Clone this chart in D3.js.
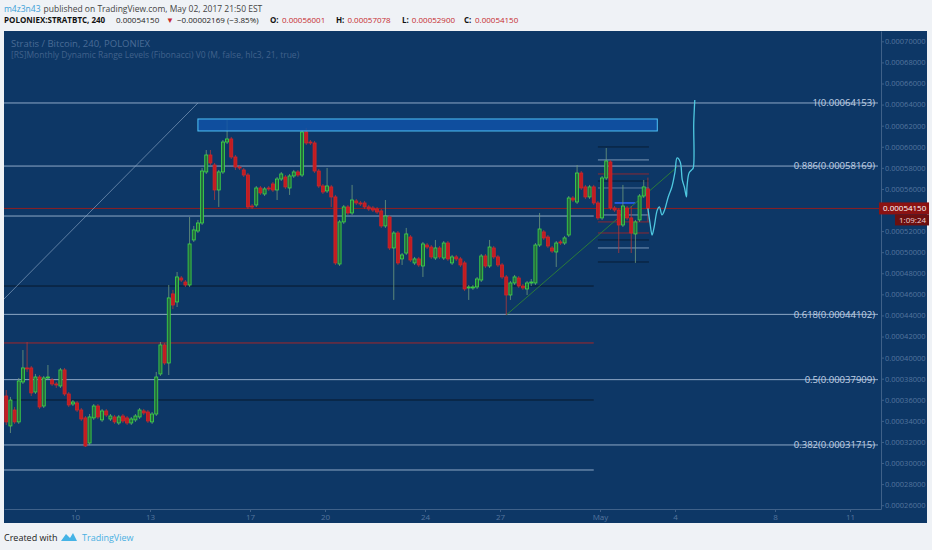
<!DOCTYPE html>
<html>
<head>
<meta charset="utf-8">
<script src="https://cdn.jsdelivr.net/npm/d3@7"></script>
<style>
  body { margin: 0; background: #eff2f6; }
  svg text { font-family: "Open Sans", sans-serif; }
</style>
</head>
<body>
<svg id="chart"></svg>
<script>
// STRATBTC 240 candles, Apr 7 04:00 -> May 2 20:00 (prices in satoshi)
const barStart = new Date(2017, 3, 7, 4);
const barHours = 4;

const opens = [
  36360, 33520, 35030, 33900, 37690, 39020, 39020, 36740, 38160, 35410,
  38070, 37880, 37500, 37310, 38830, 36550, 35600, 35700, 35030, 34280,
  31900, 34280, 35410, 34090, 34940, 34180, 34370, 33800, 34460, 34280,
  33800, 34090, 34370, 34940, 34840, 33900, 34650, 38450, 41200, 39490,
  46040, 45280, 47550, 47170, 46890, 51160, 52010, 52770, 57610, 59220,
  58270, 55900, 57610, 60450, 60740, 59030, 58080, 57800, 57320, 54380,
  54480, 56090, 55520, 56090, 56470, 55900, 56940, 57130, 56090, 57230,
  57610, 57320, 61400, 60450, 60360, 57700, 56280, 55810, 56190, 55240,
  48880, 52870, 54290, 53720, 54860, 54670, 54670, 54290, 54190, 54100,
  53910, 52490, 53340, 50400, 51820, 49360, 49920, 51440, 48980, 49360,
  48690, 50680, 50490, 49450, 50400, 49450, 50870, 48980, 49550, 49360,
  48980, 46610, 46610, 46700, 47360, 49640, 48690, 50400, 49550, 48790,
  47650, 45940, 47080, 47550, 46790, 46510, 47080, 47080, 50680, 51920,
  51440, 50400, 50020, 50970, 50870, 51630, 55140, 54760, 57510, 56190,
  55240, 56190, 54670, 53250, 57040, 58560, 54190, 54000, 52580, 54190,
  53250, 51730, 53060, 55330, 56001
];
const highs = [
  36930, 36270, 35320, 38070, 40720, 41480, 39210, 38450, 38350, 38260,
  39300, 38070, 37690, 39020, 39020, 36740, 35980, 35890, 35220, 34460,
  34650, 35600, 35600, 35130, 35130, 34650, 34560, 34560, 34650, 34460,
  34370, 34650, 35220, 35130, 35030, 34840, 38640, 41480, 41390, 46890,
  46420, 48120, 47740, 47360, 53340, 52490, 53060, 57990, 59690, 59690,
  58460, 57800, 60640, 62540, 60930, 59220, 58270, 57990, 57510, 54570,
  56280, 56280, 56190, 56280, 56660, 57130, 57610, 57320, 57420, 57800,
  57800, 61590, 61780, 60640, 60550, 57890, 56470, 57990, 56380, 55430,
  53060, 54480, 54480, 56380, 55050, 54860, 54860, 54480, 54380, 54290,
  54100, 54950, 53530, 52010, 52010, 49920, 52300, 51630, 49550, 49550,
  50970, 50870, 50680, 51160, 50590, 51060, 51060, 49740, 49740, 49550,
  49170, 46890, 46890, 47650, 49830, 49830, 51160, 50590, 49740, 48980,
  47840, 47270, 47840, 47740, 46990, 47270, 47460, 50870, 53720, 52110,
  51630, 50590, 51060, 51160, 51540, 55330, 55330, 58270, 57700, 56380,
  56380, 56380, 54860, 57230, 59880, 58750, 54380, 54190, 56380, 54380,
  54380, 53060, 55520, 56850, 57078
];
const lows = [
  33610, 32850, 33710, 33710, 37500, 38640, 36360, 36550, 35130, 35220,
  37880, 37310, 37120, 37120, 36360, 35320, 35410, 34840, 33990, 31520,
  31710, 34090, 34180, 33900, 34370, 33990, 33710, 33610, 33800, 33610,
  33610, 33900, 34180, 34560, 33800, 33710, 34460, 38260, 39300, 38350,
  44610, 44800, 47170, 46700, 46700, 50970, 51820, 52580, 57420, 58270,
  54950, 54290, 57420, 60260, 58840, 57800, 57800, 57130, 54100, 54100,
  54290, 55430, 55330, 55810, 55710, 54950, 56750, 56000, 55430, 57040,
  57130, 57130, 60170, 60170, 57510, 56090, 55520, 55620, 54290, 48790,
  48690, 52680, 53530, 53530, 54480, 54380, 54100, 53910, 53810, 53620,
  52300, 52300, 50210, 45470, 48790, 48790, 49740, 49070, 48790, 48600,
  47650, 50300, 49360, 49260, 49360, 49260, 49170, 48790, 49170, 48600,
  46320, 45470, 46420, 46510, 47170, 48500, 48500, 49360, 48600, 47460,
  44040, 45470, 46890, 46610, 46420, 45940, 46790, 46890, 50490, 51160,
  50400, 49920, 48600, 50680, 50680, 51440, 54760, 54570, 55900, 55050,
  55050, 54480, 53060, 53060, 56850, 54000, 53810, 49920, 52390, 53060,
  49920, 48980, 52870, 55140, 52900
];
const closes = [
  33900, 35980, 33900, 37780, 39020, 38920, 36650, 38160, 35320, 38070,
  38160, 37500, 37400, 38830, 36550, 35510, 35790, 35030, 34180, 31620,
  34370, 35410, 34370, 34940, 34560, 34460, 33900, 34370, 33990, 33800,
  34180, 34460, 35030, 34750, 33990, 34650, 38160, 41200, 39490, 45660,
  44990, 47650, 47360, 46890, 50780, 52110, 52770, 57700, 59220, 58460,
  55900, 57610, 60450, 60740, 59030, 58080, 57990, 57320, 54290, 54290,
  56090, 55620, 56000, 56000, 55900, 56940, 57420, 56190, 57230, 57610,
  57320, 61400, 60360, 60360, 57700, 56280, 55710, 56280, 55240, 48980,
  52870, 54290, 53720, 54950, 54670, 54570, 54290, 54100, 54000, 53810,
  52490, 53430, 50400, 51820, 48980, 49740, 51730, 49260, 49360, 48790,
  50780, 50490, 49550, 50400, 49550, 50870, 49360, 49550, 49360, 48790,
  46510, 46700, 46700, 47460, 49640, 48690, 50490, 49550, 48790, 47650,
  45940, 47080, 47650, 46790, 46610, 47080, 47170, 50680, 52200, 51350,
  50590, 50110, 50870, 50870, 51350, 55140, 54950, 57510, 56090, 55240,
  56190, 54670, 53250, 57040, 58650, 54190, 54000, 52580, 54380, 53250,
  51820, 52870, 55330, 56190, 54150
];

// Fibonacci levels of the monthly range (full width)
const fibLevels = [1, 0.886, 0.618, 0.5, 0.382];
const fibPrices = [64153, 58169, 44102, 37909, 31715];

// April range levels (end at month change) and May range levels
const aprilPrices = [53430, 46790, 41390, 35980, 29340];
const aprilKinds = ['light', 'dark', 'red', 'dark', 'light'];
const mayPrices = [59980, 58750, 57420, 56750, 56090, 53530, 52870, 51820, 51160, 50400, 49070];
const mayKinds = ['dark', 'light', 'red', 'dark', 'grey', 'light', 'red', 'red', 'dark', 'light', 'dark'];
const mayMidPrice = 54670;

// drawings
const zonePrices = [62635, 61497];
const zoneTimes = [new Date(2017, 3, 14, 22), new Date(2017, 4, 3, 7)];
const leftTrendTimes = [new Date(2017, 3, 7, 3, 50), new Date(2017, 3, 14, 22)];
const leftTrendPrices = [45560, 64153];
const greenTrendTimes = [new Date(2017, 3, 27, 6), new Date(2017, 4, 4, 2)];
const greenTrendPrices = [44040, 58080];
// projection sketch: hours after last bar, price
const projHours = [0, 2, 4, 6, 9, 11, 13.5, 16, 19.5, 23, 26, 28, 31, 33, 35, 37, 37.5, 39.5, 42, 43.5, 44, 45];
const projPrices = [54150, 52770, 51630, 52390, 54000, 54290, 53530, 54000, 55240, 56180, 57610, 58940,
  58560, 56850, 56180, 55240, 56180, 57510, 57800, 57990, 62250, 64440];

const tickDates = [new Date(2017, 3, 10), new Date(2017, 3, 13), new Date(2017, 3, 17), new Date(2017, 3, 20),
  new Date(2017, 3, 24), new Date(2017, 3, 27), new Date(2017, 4, 1), new Date(2017, 4, 4),
  new Date(2017, 4, 8), new Date(2017, 4, 11)];
const tickLabels = ['10', '13', '17', '20', '24', '27', 'May', '4', '8', '11'];
const priceTicks = [26000, 28000, 30000, 32000, 34000, 36000, 38000, 40000, 42000, 44000, 46000, 48000,
  50000, 52000, 54000, 56000, 58000, 60000, 62000, 64000, 66000, 68000, 70000];

const W = 932, H = 550;
const plotL = 4, plotR = 881, plotT = 31, plotB = 509;
const fmt = v => (v / 1e8).toFixed(8);
const HOUR = 3600 * 1000;

const svg = d3.select('#chart').attr('width', W).attr('height', H);

const x = d3.scaleTime()
  .domain([new Date(2017, 3, 7, 3, 50), new Date(2017, 4, 12, 5, 46)])
  .range([plotL, plotR]);
const y = d3.scaleLinear().domain([25640, 70980]).range([plotB, plotT]);

const colors = { light: '#8ea8c6', grey: '#6a86a8', dark: '#08192d', red: '#a3262a' };

// header, laid out left to right so that no two pieces touch
function headerLine(yPos, size, pieces) {
  let end = 0;
  pieces.forEach(s => {
    const t = svg.append('text').attr('y', yPos).attr('font-size', size).attr('fill', s.c)
      .attr('font-weight', s.bold ? 'bold' : null).text(s.t);
    const x0 = Math.max(s.x, end + 3);
    t.attr('x', x0);
    end = x0 + t.node().getComputedTextLength();
  });
}
const red = '#c62a2f';
headerLine(12, 8.5, [
  { x: 4, t: 'm4z3n43', c: '#3aa0d8' },
  { x: 0, t: 'published on TradingView.com, May 02, 2017 21:50 EST', c: '#444' }
]);
headerLine(23, 8, [
  { x: 4, t: 'POLONIEX:STRATBTC, 240', bold: true, c: '#111' },
  { x: 116, t: '0.00054150', c: '#222' },
  { x: 166, t: '\u25BC', c: red },
  { x: 177, t: '\u22120.00002169 (\u22123.85%)', c: '#222' },
  { x: 270, t: 'O:', bold: true, c: '#111' },
  { x: 282, t: '0.00056001', c: red },
  { x: 336, t: 'H:', bold: true, c: '#111' },
  { x: 347, t: '0.00057078', c: red },
  { x: 402, t: 'L:', bold: true, c: '#111' },
  { x: 410, t: '0.00052900', c: red },
  { x: 464, t: 'C:', bold: true, c: '#111' },
  { x: 475, t: '0.00054150', c: red }
]);

// chart panel
svg.append('rect').attr('x', plotL).attr('y', plotT).attr('width', 927 - plotL).attr('height', 523 - plotT)
  .attr('fill', '#0d3766');

svg.append('defs').append('clipPath').attr('id', 'plot')
  .append('rect').attr('x', plotL).attr('y', plotT).attr('width', plotR - plotL).attr('height', plotB - plotT);
const plot = svg.append('g').attr('clip-path', 'url(#plot)');

// legend
svg.append('text').attr('x', 11).attr('y', 47).attr('font-size', 9.5).attr('fill', '#4a6c96')
  .text('Stratis / Bitcoin, 240, POLONIEX');
svg.append('text').attr('x', 11).attr('y', 58).attr('font-size', 8.5).attr('fill', '#41628c')
  .text('[RS]Monthly Dynamic Range Levels (Fibonacci) V0 (M, false, hlc3, 21, true)');

// April range levels
const aprilEnd = new Date(2017, 3, 30, 18);
aprilPrices.forEach((p, i) => {
  plot.append('line').attr('x1', plotL).attr('x2', x(aprilEnd)).attr('y1', y(p)).attr('y2', y(p))
    .attr('stroke', colors[aprilKinds[i]]).attr('stroke-width', 1);
});

// May range levels
const mayStart = new Date(2017, 3, 30, 22), mayEnd = new Date(2017, 4, 2, 23);
mayPrices.forEach((p, i) => {
  plot.append('line').attr('x1', x(mayStart)).attr('x2', x(mayEnd)).attr('y1', y(p)).attr('y2', y(p))
    .attr('stroke', colors[mayKinds[i]]).attr('stroke-width', 1).attr('opacity', 0.85);
});
plot.append('line').attr('x1', x(new Date(2017, 4, 1, 14))).attr('x2', x(new Date(2017, 4, 2, 10)))
  .attr('y1', y(mayMidPrice)).attr('y2', y(mayMidPrice)).attr('stroke', '#2962ff').attr('stroke-width', 1.5);

// fib levels
fibPrices.forEach(p => {
  plot.append('line').attr('x1', plotL).attr('x2', 878).attr('y1', y(p)).attr('y2', y(p))
    .attr('stroke', colors.light).attr('stroke-width', 1);
});

// last price line
const lastClose = closes[closes.length - 1];
plot.append('line').attr('x1', plotL).attr('x2', plotR).attr('y1', y(lastClose)).attr('y2', y(lastClose))
  .attr('stroke', '#8e1f22').attr('stroke-width', 1);

// trend lines
plot.append('line')
  .attr('x1', x(leftTrendTimes[0])).attr('y1', y(leftTrendPrices[0]))
  .attr('x2', x(leftTrendTimes[1])).attr('y2', y(leftTrendPrices[1]))
  .attr('stroke', '#8ea8c6').attr('stroke-width', 0.8).attr('opacity', 0.8);
plot.append('line')
  .attr('x1', x(greenTrendTimes[0])).attr('y1', y(greenTrendPrices[0]))
  .attr('x2', x(greenTrendTimes[1])).attr('y2', y(greenTrendPrices[1]))
  .attr('stroke', '#2b7a3a').attr('stroke-width', 1);

// candles
const bars = opens.map((o, i) => ({
  t: new Date(barStart.getTime() + (i * barHours + barHours / 2) * HOUR),
  o, h: highs[i], l: lows[i], c: closes[i]
}));
const up = d => d.c >= d.o;
const cg = plot.append('g');
cg.selectAll('line').data(bars).join('line')
  .attr('x1', d => x(d.t)).attr('x2', d => x(d.t))
  .attr('y1', d => y(d.h)).attr('y2', d => y(d.l))
  .attr('stroke', d => up(d) ? '#6f9a7c' : '#b0383a').attr('stroke-width', 0.8);
cg.selectAll('rect').data(bars).join('rect')
  .attr('x', d => x(d.t) - 1.5).attr('width', 3)
  .attr('y', d => y(Math.max(d.o, d.c)))
  .attr('height', d => Math.max(1, Math.abs(y(d.o) - y(d.c))))
  .attr('fill', d => up(d) ? '#25693f' : '#c01d20')
  .attr('stroke', d => up(d) ? '#3fdc45' : '#d42428').attr('stroke-width', 0.8);

// supply zone
plot.append('rect')
  .attr('x', x(zoneTimes[0])).attr('width', x(zoneTimes[1]) - x(zoneTimes[0]))
  .attr('y', y(zonePrices[0])).attr('height', y(zonePrices[1]) - y(zonePrices[0]))
  .attr('fill', '#1152a8').attr('fill-opacity', 0.85).attr('stroke', '#4fc3f7').attr('stroke-width', 1);

// projection sketch
const lastT = bars[bars.length - 1].t.getTime();
plot.append('path')
  .datum(projHours.map((h, i) => [new Date(lastT + h * HOUR), projPrices[i]]))
  .attr('d', d3.line().x(d => x(d[0])).y(d => y(d[1])).curve(d3.curveCatmullRom))
  .attr('fill', 'none').attr('stroke', '#4fc8e0').attr('stroke-width', 1.3);

// fib labels
fibPrices.forEach((p, i) => {
  svg.append('text').attr('x', 875).attr('y', y(p)).attr('dy', '0.35em')
    .attr('text-anchor', 'end').attr('font-size', 9.5).attr('fill', '#c3d3e6')
    .text(`${fibLevels[i]}(${fmt(p)})`);
});

// axes (the tick hidden under the last-price tag is left out)
const yc = y(lastClose);
const yAxis = d3.axisRight(y).tickValues(priceTicks.filter(v => Math.abs(y(v) - yc) > 8))
  .tickSize(3).tickSizeOuter(0).tickFormat(fmt);
const gy = svg.append('g').attr('transform', `translate(${plotR},0)`).call(yAxis);
gy.select('.domain').attr('stroke', '#3f6189');
gy.selectAll('.tick line').attr('stroke', '#3f6189');
gy.selectAll('.tick text').attr('fill', '#54759e').attr('font-size', 7.5).attr('x', 4)
  .style('font-family', '"Open Sans", sans-serif');

const xAxis = d3.axisBottom(x).tickValues(tickDates).tickSize(3).tickSizeOuter(0)
  .tickFormat((d, i) => tickLabels[i]);
const gx = svg.append('g').attr('transform', `translate(0,${plotB})`).call(xAxis);
gx.select('.domain').attr('stroke', '#3f6189');
gx.selectAll('.tick line').attr('stroke', '#3f6189');
gx.selectAll('.tick text').attr('fill', '#54759e').attr('font-size', 8).attr('y', 5)
  .style('font-family', '"Open Sans", sans-serif');

// last price tag and countdown
svg.append('rect').attr('x', 879).attr('y', yc - 6).attr('width', 50).attr('height', 12).attr('fill', '#8b1313');
svg.append('text').attr('x', 883).attr('y', yc).attr('dy', '0.35em').attr('font-size', 8)
  .attr('fill', '#fff').text(fmt(lastClose));
svg.append('rect').attr('x', 895).attr('y', yc + 6).attr('width', 34).attr('height', 11).attr('fill', '#6c1010');
svg.append('text').attr('x', 899).attr('y', yc + 11.5).attr('dy', '0.35em').attr('font-size', 8)
  .attr('fill', '#f0d0d0').text('1:09:24');

// footer
svg.append('text').attr('x', 4).attr('y', 541).attr('font-size', 9).attr('fill', '#222')
  .text('Created with');
svg.append('path').attr('transform', 'translate(61,531)')
  .attr('d', 'M0 10 L5 3 L9 7 L12 2 L16 10 Z').attr('fill', '#45b3e6');
svg.append('text').attr('x', 82).attr('y', 541).attr('font-size', 9).attr('fill', '#49b0e2')
  .text('TradingView');
</script>
</body>
</html>
